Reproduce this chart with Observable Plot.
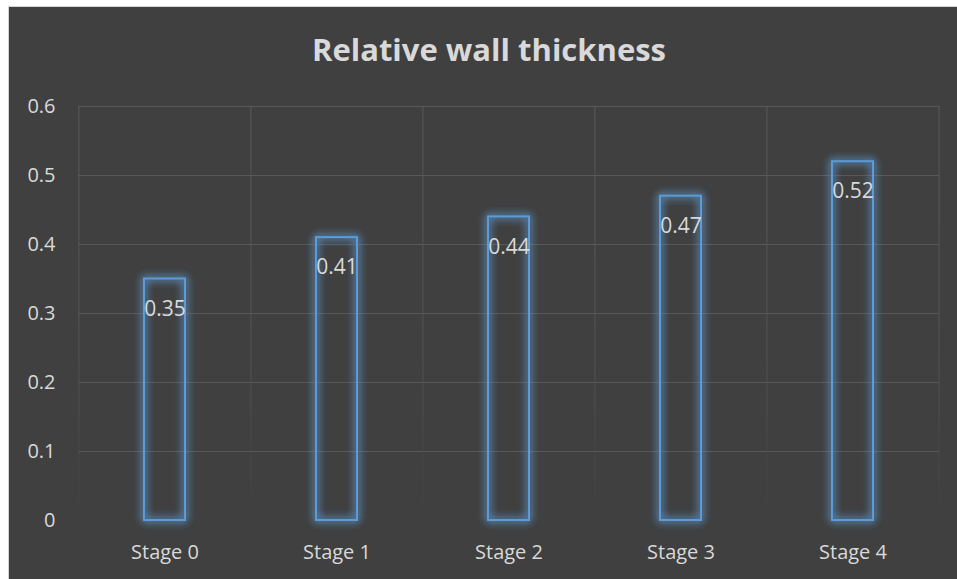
<!DOCTYPE html>
<html>
<head>
<meta charset="utf-8">
<script src="https://cdn.jsdelivr.net/npm/d3@7"></script>
<script src="https://cdn.jsdelivr.net/npm/@observablehq/plot@0.6"></script>
<style>
  body { margin: 0; background: #ffffff; }
  #card {
    position: absolute; left: 8px; top: 6px;
    width: 948px; height: 572px;
    background: #404040;
    border-left: 1px solid #d4d4d4; border-top: 1px solid #d4d4d4;
    font-family: "Open Sans", sans-serif;
    overflow: hidden;
  }
  #title {
    box-sizing: border-box;
    height: 73px; padding-top: 27px; padding-left: 12px;
    font-size: 31px; line-height: 31px; font-weight: 700;
    color: #d9d9d9; text-align: center;
  }
  #chart svg { display: block; }
</style>
</head>
<body>
<div id="card">
  <div id="title">Relative wall thickness</div>
  <div id="chart"></div>
</div>
<script>
// Categories and values
const stages = ["Stage 0", "Stage 1", "Stage 2", "Stage 3", "Stage 4"];
const values = [0.35, 0.41, 0.44, 0.47, 0.52];
const yTicks = [0, 0.1, 0.2, 0.3, 0.4, 0.5, 0.6];

const data = stages.map((stage, i) => ({stage, value: values[i]}));

const W = 948, H = 499;
const mL = 69, mR = 18, mT = 26, mB = 59;
const step = (W - mL - mR) / stages.length; // width of one category band

const chart = Plot.plot({
  width: W,
  height: H,
  marginLeft: mL, marginRight: mR, marginTop: mT, marginBottom: mB,
  style: {
    background: "transparent",
    color: "#d9d9d9",
    fontFamily: "'Open Sans', sans-serif",
    fontSize: "20px",
    overflow: "visible"
  },
  x: {domain: stages, paddingInner: 0.762, paddingOuter: 0.381, label: null, tickSize: 0, tickPadding: 24},
  y: {domain: [0, 0.6], ticks: yTicks, tickFormat: d => String(d), label: null, tickSize: 0, tickPadding: 23},
  marks: [
    // horizontal gridlines
    Plot.ruleY(yTicks.filter(d => d > 0), {stroke: "#585858", strokeWidth: 1}),
    // vertical gridlines on category boundaries
    Plot.ruleX(stages, {x: d => d, dx: -step / 2, y1: 0, y2: 0.6, stroke: "#585858", strokeWidth: 1}),
    Plot.ruleX(stages.slice(-1), {x: d => d, dx: step / 2, y1: 0, y2: 0.6, stroke: "#585858", strokeWidth: 1}),
    // outlined bars
    Plot.barY(data, {x: "stage", y: "value", fill: "none", stroke: "#5b9bd5", strokeWidth: 2}),
    // value labels inside the top of each bar
    Plot.text(data, {x: "stage", y: "value", text: d => d.value.toFixed(2), dy: 30, fill: "#d9d9d9", fontSize: 21})
  ]
});

// soft blue glow around the bar outlines, and gridlines that fade toward the baseline
const ns = "http://www.w3.org/2000/svg";
const defs = document.createElementNS(ns, "defs");
defs.innerHTML = `
  <filter id="glow" x="-50%" y="-20%" width="200%" height="140%">
    <feGaussianBlur in="SourceGraphic" stdDeviation="4" result="blur"/>
    <feComponentTransfer in="blur" result="soft">
      <feFuncA type="linear" slope="2.2"/>
    </feComponentTransfer>
    <feMerge>
      <feMergeNode in="soft"/>
      <feMergeNode in="SourceGraphic"/>
    </feMerge>
  </filter>
  <linearGradient id="fade" gradientUnits="userSpaceOnUse" x1="0" y1="${mT}" x2="0" y2="${H - mB}">
    <stop offset="0" stop-color="#5a5a5a"/>
    <stop offset="0.6" stop-color="#525252"/>
    <stop offset="1" stop-color="#404040"/>
  </linearGradient>`;
chart.insertBefore(defs, chart.firstChild);
chart.querySelector('g[aria-label="bar"]').setAttribute("filter", "url(#glow)");
const rules = chart.querySelectorAll('g[aria-label="rule"]');
rules.forEach((g, i) => { if (i > 0) g.setAttribute("stroke", "url(#fade)"); });

document.getElementById("chart").appendChild(chart);
</script>
</body>
</html>
